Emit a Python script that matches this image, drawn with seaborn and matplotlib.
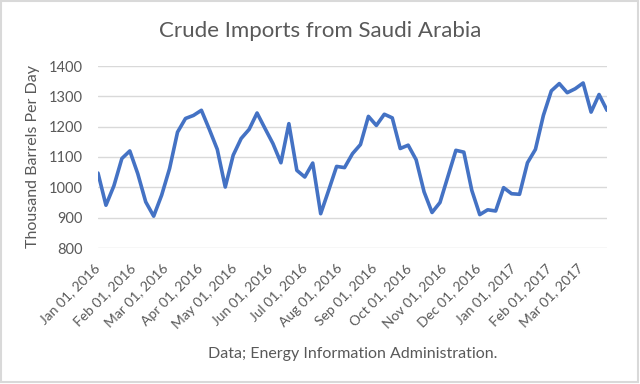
import pandas as pd
import numpy as np
import seaborn as sns
import matplotlib.pyplot as plt
import matplotlib.dates as mdates
from matplotlib.patches import Rectangle

# weekly crude imports from Saudi Arabia, thousand barrels per day
week_start = "2016-01-01"
week_end = "2017-03-24"
imports = [1047, 941, 1005, 1095, 1120, 1045, 952, 905, 974, 1062,
           1182, 1227, 1237, 1254, 1191, 1125, 1001, 1106, 1161, 1191,
           1245, 1194, 1144, 1081, 1210, 1056, 1034, 1080, 913, 990,
           1069, 1065, 1111, 1141, 1234, 1204, 1241, 1229, 1128, 1139,
           1091, 985, 917, 950, 1036, 1122, 1116, 990, 910, 926,
           922, 999, 979, 977, 1081, 1125, 1237, 1318, 1342, 1312,
           1325, 1344, 1248, 1306, 1254]
yticks = [800, 900, 1000, 1100, 1200, 1300, 1400]

dates = pd.date_range(week_start, week_end, freq="7D")
df = pd.DataFrame({"week": dates, "imports": imports})

sns.set_style("white")
plt.rcParams['font.family'] = ['Lato', 'DejaVu Sans']
grey = "#595959"

fig = plt.figure(figsize=(6.4, 3.84), dpi=100)
ax = fig.add_axes([98/640, 1-248/384, 509/640, 182/384])

sns.lineplot(data=df, x="week", y="imports", ax=ax, color="#4472C4",
             linewidth=2.6, zorder=3)

ax.set_xlim(pd.Timestamp(week_start), pd.Timestamp(week_end))
ax.set_ylim(800, 1400)
ax.set_yticks(yticks)
ax.yaxis.grid(True, color="#D9D9D9", linewidth=1)
for s in ax.spines.values():
    s.set_visible(False)

ax.xaxis.set_major_locator(mdates.MonthLocator())
ax.xaxis.set_major_formatter(mdates.DateFormatter("%b %d, %Y"))
ax.tick_params(axis="x", length=0, pad=13, labelsize=10, colors=grey)
ax.tick_params(axis="y", length=0, pad=11, labelsize=10.5, colors=grey)
for lbl in ax.get_xticklabels():
    lbl.set_rotation(45)
    lbl.set_ha("right")
    lbl.set_va("center")
    lbl.set_rotation_mode("anchor")

ax.set_xlabel("Data; Energy Information Administration.", fontsize=11.5,
              color=grey, labelpad=12)
ax.set_ylabel("Thousand Barrels Per Day", fontsize=11.5, color=grey, labelpad=6)
fig.text(0.5, 1-31/384, "Crude Imports from Saudi Arabia", fontsize=16,
         color=grey, ha="center", va="center")

fig.patches.append(Rectangle((0.5/640, 2/384), 637/640, 381/384,
                             transform=fig.transFigure, fill=False,
                             edgecolor="#D9D9D9", linewidth=1.5))

fig.savefig("out.png", dpi=100)
